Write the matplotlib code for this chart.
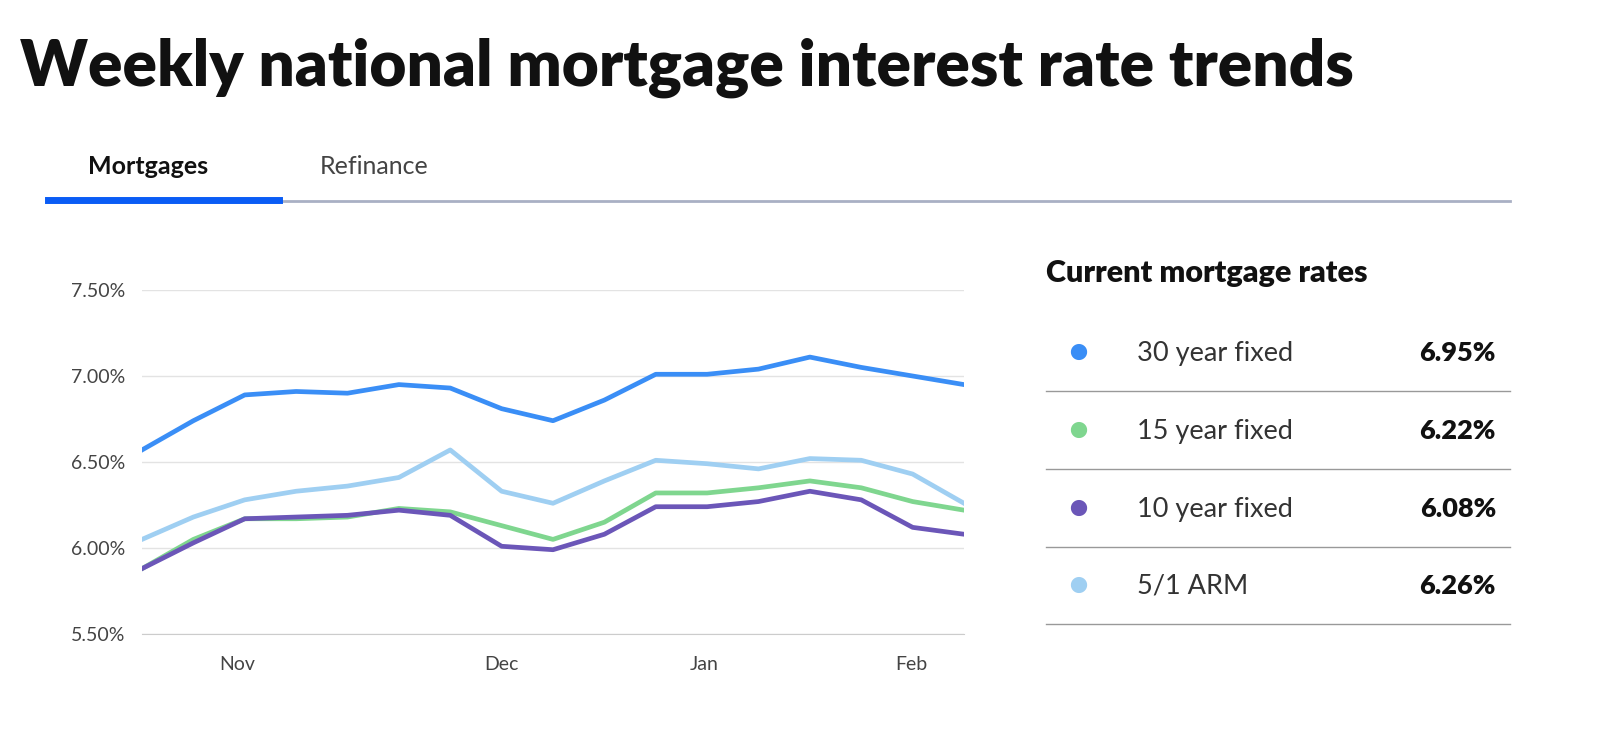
import matplotlib
matplotlib.use("Agg")
import matplotlib.pyplot as plt
from matplotlib.lines import Line2D

weeks = list(range(17))
tick_pos = [1.85, 7.0, 10.95, 14.98]
tick_labels = ["Nov", "Dec", "Jan", "Feb"]
y_ticks = [5.5, 6.0, 6.5, 7.0, 7.5]
series_names = ["30 year fixed", "15 year fixed", "10 year fixed", "5/1 ARM"]
current = ["6.95%", "6.22%", "6.08%", "6.26%"]
colors = ["#3a8ef6", "#7fd68f", "#6b56b8", "#9fcff2"]
r30 = [6.57, 6.74, 6.89, 6.91, 6.90, 6.95, 6.93, 6.81, 6.74, 6.86, 7.01, 7.01, 7.04, 7.11, 7.05, 7.00, 6.95]
r15 = [5.88, 6.05, 6.17, 6.17, 6.18, 6.23, 6.21, 6.13, 6.05, 6.15, 6.32, 6.32, 6.35, 6.39, 6.35, 6.27, 6.22]
r10 = [5.88, 6.03, 6.17, 6.18, 6.19, 6.22, 6.19, 6.01, 5.99, 6.08, 6.24, 6.24, 6.27, 6.33, 6.28, 6.12, 6.08]
arm = [6.05, 6.18, 6.28, 6.33, 6.36, 6.41, 6.57, 6.33, 6.26, 6.39, 6.51, 6.49, 6.46, 6.52, 6.51, 6.43, 6.26]

plt.rcParams["font.family"] = "Lato"
W, H = 1600, 729
fig = plt.figure(figsize=(16, 7.29), dpi=100)

fig.text(20/W, 1-68/H, "Weekly national mortgage interest rate trends", fontsize=46,
         fontweight="black", va="center", ha="left", color="#111")
fig.text(88/W, 1-167/H, "Mortgages", fontsize=18, fontweight="bold", va="center", color="#111")
fig.text(320/W, 1-167/H, "Refinance", fontsize=18, va="center", color="#444")
fig.add_artist(Line2D([48/W, 1510/W], [1-201/H]*2, color="#a9b0c4", lw=2))
fig.add_artist(Line2D([48/W, 279/W], [1-200/H]*2, color="#0a5cf5", lw=5))

ax = fig.add_axes([142/W, 1-634/H, (964-142)/W, (634-290)/H])
for s, c in zip([r30, r15, r10, arm], colors):
    ax.plot(weeks, s, color=c, lw=3.4, solid_joinstyle="round")
ax.set_xlim(0, 16)
ax.set_ylim(5.5, 7.5)
ax.set_yticks(y_ticks)
ax.set_yticklabels([f"{v:.2f}%" for v in y_ticks])
ax.set_xticks(tick_pos)
ax.set_xticklabels(tick_labels)
ax.grid(axis="y", color="#e3e3e3", lw=1)
for sp in ["top", "right", "left"]:
    ax.spines[sp].set_visible(False)
ax.spines["bottom"].set_color("#cccccc")
ax.tick_params(length=0, labelsize=14, colors="#444", pad=12)
ax.tick_params(axis="x", pad=16)

fig.text(1046/W, 1-273/H, "Current mortgage rates", fontsize=22, fontweight="black", va="center", color="#111")
rows_y = [353, 431, 509, 586]
for name, val, c, yy in zip(series_names, current, colors, rows_y):
    fig.text(1078/W, 1-yy/H, "●", fontsize=24, color=c, va="center", ha="center")
    fig.text(1137/W, 1-yy/H, name, fontsize=19.5, color="#333", va="center")
    fig.text(1496/W, 1-yy/H, val, fontsize=19.5, fontweight="black", color="#111", va="center", ha="right")
    fig.add_artist(Line2D([1046/W, 1510/W], [1-(yy+38)/H]*2, color="#999", lw=1))

fig.savefig("out.png", dpi=100, facecolor="white")
